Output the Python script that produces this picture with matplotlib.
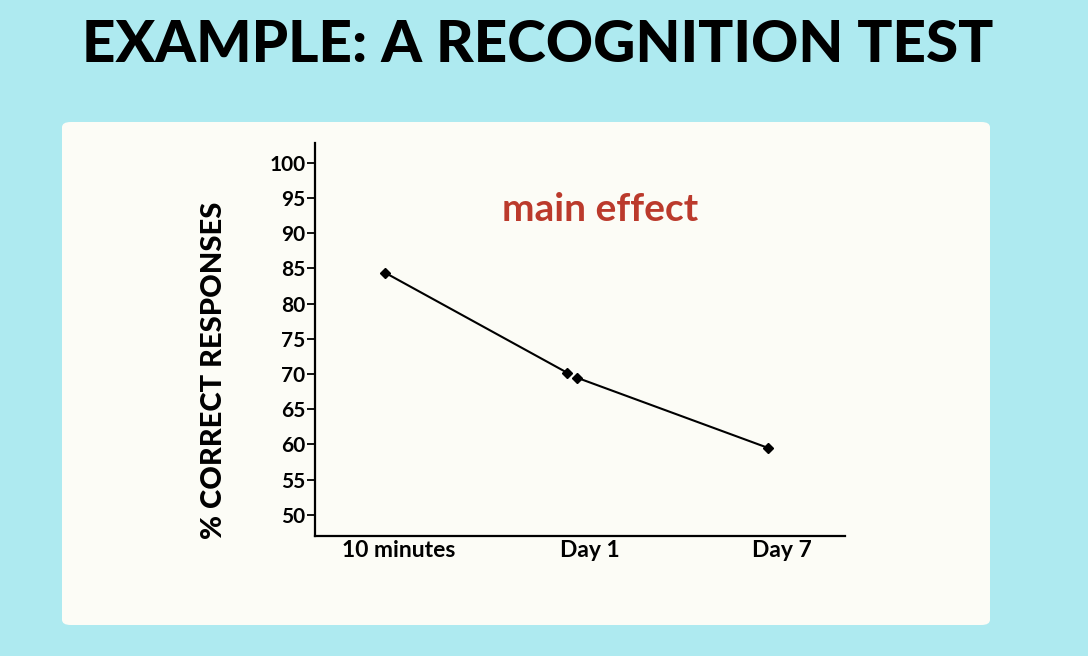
import matplotlib.pyplot as plt
from matplotlib.patches import FancyBboxPatch

# data
categories = ['10 minutes', 'Day 1', 'Day 7']
cat_pos = [0, 1, 2]
# the Day 1 point is drawn twice, slightly apart, where two segments meet
seg1_x = [0, 0.95]
seg1_y = [84.4, 70.2]
seg2_x = [1.0, 2]
seg2_y = [69.5, 59.5]
yticks = list(range(50, 101, 5))

bg = '#AEEAF0'
panel = '#FCFCF6'

fig = plt.figure(figsize=(10.88, 6.56), dpi=100)
fig.patch.set_facecolor(bg)

box = FancyBboxPatch((62 / 1088, 1 - 625 / 656), (990 - 62) / 1088, (625 - 122) / 656,
                     boxstyle='round,pad=0,rounding_size=0.008',
                     transform=fig.transFigure, facecolor=panel, edgecolor='none', zorder=-5)
fig.patches.append(box)

fig.text(0.494, 0.930, 'EXAMPLE: A RECOGNITION TEST', ha='center', va='center',
         fontsize=42, fontweight='black', family='Lato', color='black')

ax = fig.add_axes([0.2895, 0.1829, 0.4871, 0.599])
ax.set_facecolor('none')

ax.plot(seg1_x, seg1_y, color='black', lw=1.5, marker='D', ms=5)
ax.plot(seg2_x, seg2_y, color='black', lw=1.5, marker='D', ms=5)

ax.set_xlim(-0.365, 2.40)
ax.set_ylim(47.0, 102.8)
ax.set_yticks(yticks)
ax.set_yticklabels([str(v) for v in yticks], fontsize=15, fontweight='bold', family='Lato')
# labels sit a little right of the points in the original
ax.set_xticks([p + 0.07 for p in cat_pos])
ax.set_xticklabels(categories, fontsize=16.5, fontweight='bold', family='Lato')

ax.tick_params(axis='x', length=0, pad=3)
ax.tick_params(axis='y', length=6, width=1.3, pad=1)
for s in ['top', 'right']:
    ax.spines[s].set_visible(False)
for s in ['left', 'bottom']:
    ax.spines[s].set_linewidth(1.6)

ax.set_ylabel('% CORRECT RESPONSES', fontsize=21, fontweight='black', family='Lato')
ax.yaxis.set_label_coords(-0.166, 0.422)

ax.text(0.538, 0.83, 'main effect', transform=ax.transAxes, ha='center', va='center',
        fontsize=28, fontweight='bold', family='Lato', color='#BB3A2C')

fig.savefig('out.png', dpi=100, facecolor=bg)
